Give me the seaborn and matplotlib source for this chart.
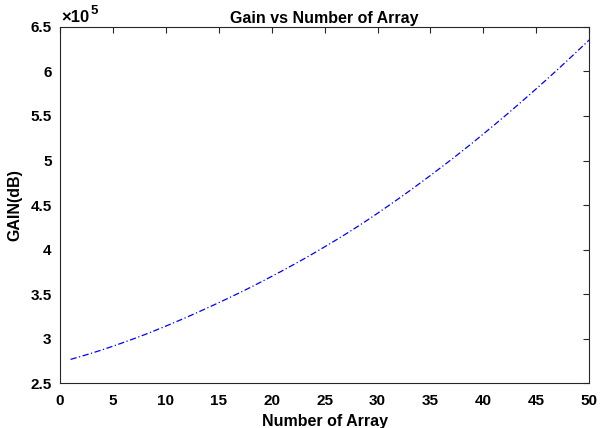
import matplotlib
matplotlib.use("Agg")
import matplotlib.pyplot as plt
from matplotlib.ticker import FuncFormatter, MultipleLocator
import seaborn as sns
import pandas as pd

num_array = list(range(1, 51))
gain = [2.766, 2.800, 2.836, 2.874, 2.914, 2.956, 2.999, 3.044, 3.091, 3.140,
        3.190, 3.241, 3.294, 3.348, 3.403, 3.459, 3.516, 3.575, 3.636, 3.698,
        3.761, 3.826, 3.892, 3.960, 4.030, 4.101, 4.174, 4.249, 4.327, 4.407,
        4.489, 4.572, 4.657, 4.744, 4.832, 4.922, 5.013, 5.106, 5.201, 5.298,
        5.396, 5.496, 5.598, 5.701, 5.806, 5.912, 6.020, 6.130, 6.242, 6.354]
gain = [g * 1e5 for g in gain]

df = pd.DataFrame({"Number of Array": num_array, "GAIN(dB)": gain})

sns.set_style("white")
plt.rcParams['font.family'] = ['Liberation Sans', 'DejaVu Sans']
plt.rcParams['font.weight'] = 'bold'
plt.rcParams['text.color'] = 'black'
plt.rcParams['axes.labelcolor'] = 'black'
plt.rcParams['xtick.color'] = 'black'
plt.rcParams['ytick.color'] = 'black'

fig = plt.figure(figsize=(6, 4.28), dpi=100)
ax = fig.add_axes([0.1, 0.105, 0.882, 0.832])

sns.lineplot(data=df, x="Number of Array", y="GAIN(dB)", ax=ax,
             color=(0, 0, 1), linewidth=0.9, linestyle=(0, (5, 2, 1, 2)))

ax.set_xlim(0, 50)
ax.set_ylim(2.5e5, 6.5e5)
ax.xaxis.set_major_locator(MultipleLocator(5))
ax.yaxis.set_major_locator(MultipleLocator(0.5e5))
ax.yaxis.set_major_formatter(FuncFormatter(lambda v, p: f"{v/1e5:g}"))

for s in ax.spines.values():
    s.set_color("#262626")
    s.set_linewidth(0.8)
ax.tick_params(axis="both", direction="in", length=4, width=0.8, color="#262626",
               labelcolor="black", top=True, right=True, labelsize=11)
ax.tick_params(axis="x", pad=8)
ax.tick_params(axis="y", pad=6)
for lbl in ax.get_xticklabels() + ax.get_yticklabels():
    lbl.set_fontweight("bold")

ax.set_xlabel("Number of Array", fontsize=11.5, fontweight="bold", labelpad=4, color="black")
ax.set_ylabel("GAIN(dB)", fontsize=11.5, fontweight="bold", labelpad=6, color="black")
ax.set_title("Gain vs Number of Array", fontsize=11.5, fontweight="bold", pad=3, color="black")
base = ax.text(0.003, 1.006, "\u00d710", transform=ax.transAxes,
               fontsize=12, fontweight="bold", ha="left", va="bottom", color="black")
ax.annotate("5", xy=(1.0, 0.55), xycoords=base, xytext=(0.5, 0), textcoords="offset points",
            fontsize=9.5, fontweight="bold", ha="left", va="bottom", color="black")

fig.savefig("out.png", dpi=100, facecolor="white")
